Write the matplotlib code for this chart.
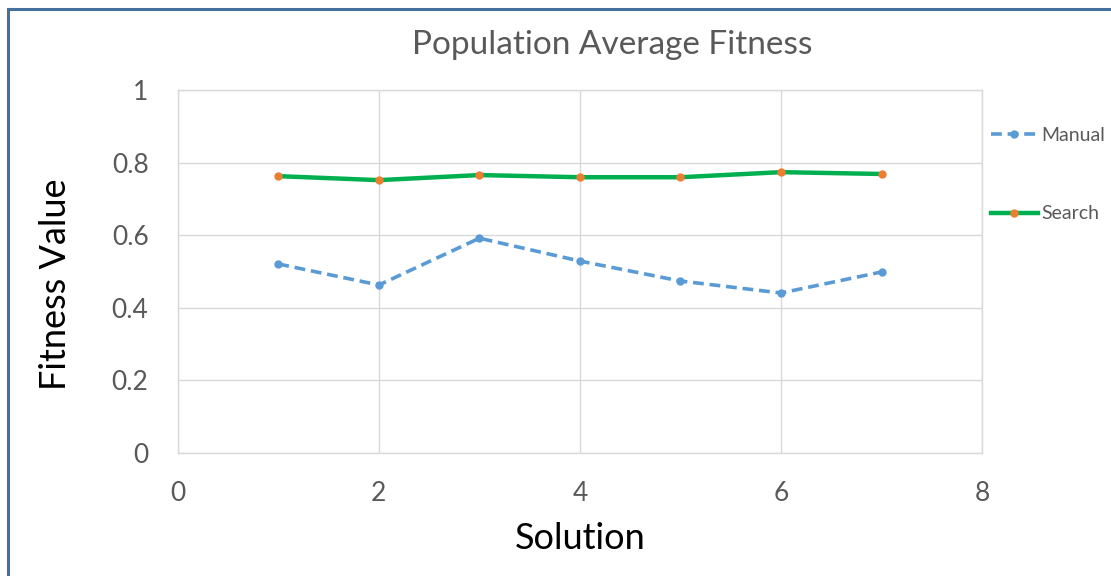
import matplotlib
matplotlib.use("Agg")
import matplotlib.pyplot as plt
from matplotlib.lines import Line2D

plt.rcParams['font.family'] = ['Lato', 'DejaVu Sans']

# Data
solutions = [1, 2, 3, 4, 5, 6, 7]
manual = [0.521, 0.463, 0.592, 0.529, 0.474, 0.441, 0.499]
search = [0.763, 0.752, 0.766, 0.760, 0.760, 0.774, 0.769]
x_ticks = [0, 2, 4, 6, 8]
y_ticks = [0, 0.2, 0.4, 0.6, 0.8, 1]
y_labels = ['0', '0.2', '0.4', '0.6', '0.8', '1']

fig = plt.figure(figsize=(11.11, 5.76), dpi=100)
ax = fig.add_axes([0.160, 0.2135, 0.724, 0.630])

ax.plot(solutions, manual, color='#5b9bd5', lw=2.6, ls=(0, (3, 1.6)),
        marker='o', ms=5, mfc='#5b9bd5', mec='#5b9bd5', label='Manual')
ax.plot(solutions, search, color='#00b050', lw=3.2,
        marker='o', ms=5, mfc='#ed7d31', mec='#ed7d31', label='Search')

ax.set_xlim(0, 8)
ax.set_ylim(0, 1)
ax.set_xticks(x_ticks)
ax.set_yticks(y_ticks)
ax.set_yticklabels(y_labels)
ax.grid(True, color='#d9d9d9', lw=1)
ax.set_axisbelow(True)
for s in ax.spines.values():
    s.set_color('#d9d9d9')
    s.set_linewidth(1)
ax.tick_params(length=0, labelsize=19, labelcolor='#595959')
ax.tick_params(axis='x', pad=20)
ax.tick_params(axis='y', pad=21)

ax.set_title('Population Average Fitness', fontsize=24, color='#595959', pad=26, x=0.54)
ax.set_xlabel('Solution', fontsize=26, labelpad=12)
ax.set_ylabel('Fitness Value', fontsize=26)
ax.yaxis.set_label_coords(-0.131, 0.466)

ax.legend(loc='upper left', bbox_to_anchor=(1.011, 0.898), frameon=False,
          borderpad=0, borderaxespad=0,
          fontsize=14, labelcolor='#595959', handlelength=2.4, handletextpad=0.2,
          labelspacing=3.15)

# figure border (left and top edges only, as in the reference)
fig.add_artist(Line2D([0.0072, 0.0072], [0, 0.985], transform=fig.transFigure,
                      color='#41719c', lw=2.2))
fig.add_artist(Line2D([0.0072, 1], [0.985, 0.985], transform=fig.transFigure,
                      color='#41719c', lw=2.2))

fig.savefig('out.png', dpi=100)
